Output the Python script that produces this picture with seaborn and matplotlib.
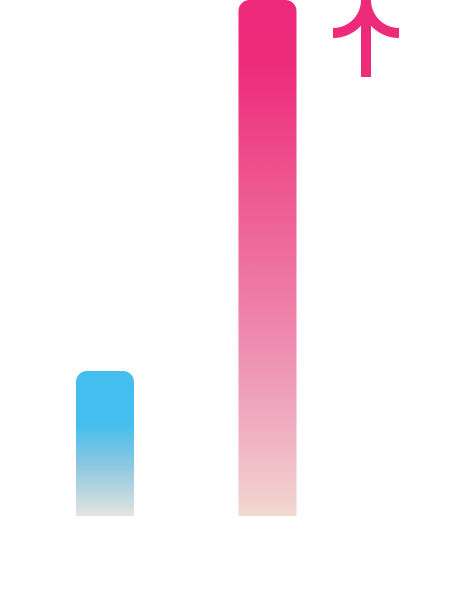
import numpy as np
import pandas as pd
import matplotlib
matplotlib.use("Agg")
import matplotlib.pyplot as plt
import seaborn as sns
from matplotlib.path import Path
from matplotlib.patches import PathPatch
from matplotlib.colors import LinearSegmentedColormap
from matplotlib.transforms import Affine2D

categories = ["Before", "After"]
values = [28.1, 100.0]

# gradient stops (fraction from bottom, colour)
blue_stops = [(0.0, "#E8E5DF"), (0.076, "#D0DEE0"), (0.35, "#8CC8E2"), (0.63, "#45BFEE"), (1.0, "#44BEEE")]
pink_stops = [(0.0, "#F3D9D1"), (0.02, "#F2D2CF"), (0.205, "#EFA7BE"), (0.40, "#EE80A8"),
              (0.593, "#EE5F95"), (0.87, "#EE2C7C"), (1.0, "#EE2A7B")]
arrow_color = "#EE2A7B"

sns.set_theme(style="white")
fig = plt.figure(figsize=(4.62, 6.0), dpi=100)
ax = fig.add_axes([0, 0, 1, 1])
df = pd.DataFrame({"cat": categories, "val": values})
sns.barplot(data=df, x="cat", y="val", ax=ax, width=0.357, color="#45BFEE")
ax.set_xlim(-0.646, 2.197)
ax.set_ylim(-16.28, 100)
ax.axis("off")

fig.canvas.draw()
sx = ax.transData.transform((1, 0))[0] - ax.transData.transform((0, 0))[0]
sy = ax.transData.transform((0, 1))[1] - ax.transData.transform((0, 0))[1]
r_px = 11
rx, ry = r_px / sx, r_px / sy
k = 0.5523

for patch, stops in zip(ax.patches, [blue_stops, pink_stops]):
    x0 = patch.get_x(); w = patch.get_width(); h = patch.get_height()
    x1 = x0 + w
    patch.set_visible(False)
    verts = [(x0, 0), (x1, 0), (x1, h - ry),
             (x1, h - ry + k * ry), (x1 - rx + k * rx, h), (x1 - rx, h),
             (x0 + rx, h),
             (x0 + rx - k * rx, h), (x0, h - ry + k * ry), (x0, h - ry),
             (x0, 0)]
    codes = [Path.MOVETO, Path.LINETO, Path.LINETO,
             Path.CURVE4, Path.CURVE4, Path.CURVE4,
             Path.LINETO,
             Path.CURVE4, Path.CURVE4, Path.CURVE4,
             Path.CLOSEPOLY]
    clip = PathPatch(Path(verts, codes), facecolor="none", edgecolor="none", transform=ax.transData)
    ax.add_patch(clip)
    cmap = LinearSegmentedColormap.from_list("g", stops)
    grad = np.linspace(0, 1, 512).reshape(-1, 1)
    im = ax.imshow(grad, cmap=cmap, extent=[x0, x1, 0, h], origin="lower",
                   aspect="auto", interpolation="bicubic", zorder=2)
    im.set_clip_path(clip)

# arrow decoration (figure pixel coordinates, y downward)
H = fig.bbox.height
pix = Affine2D().scale(1, -1).translate(0, H)
lw = 10 * 72 / fig.dpi
cx = 366
R = 33
ax.plot([cx, cx], [-5, 77], color=arrow_color, lw=lw, solid_capstyle="butt", transform=pix, zorder=3)
t = np.linspace(0, np.pi / 2, 60)
ax.plot(cx - R + R * np.sin(t), R * np.cos(t) - 0, color=arrow_color, lw=lw,
        solid_capstyle="butt", transform=pix, zorder=3)
ax.plot(cx + R - R * np.sin(t), R * np.cos(t) - 0, color=arrow_color, lw=lw,
        solid_capstyle="butt", transform=pix, zorder=3)

fig.savefig("out.png", dpi=100, facecolor="white")
